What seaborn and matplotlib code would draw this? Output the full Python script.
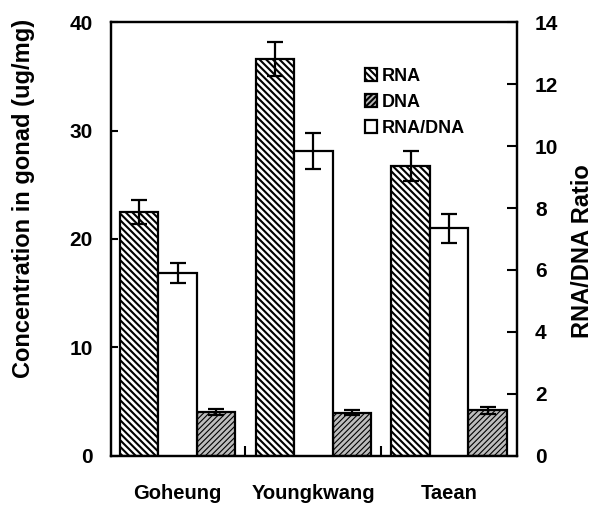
import numpy as np
import pandas as pd
import matplotlib
matplotlib.use("Agg")
import matplotlib.pyplot as plt
from matplotlib.patches import Patch
import seaborn as sns

sites = ["Goheung", "Youngkwang", "Taean"]
rna = [22.5, 36.6, 26.7]
rna_err = [1.1, 1.6, 1.4]
dna = [4.05, 4.0, 4.2]
dna_err = [0.3, 0.25, 0.3]
ratio = [5.9, 9.85, 7.35]
ratio_err = [0.33, 0.58, 0.47]

levels = ["RNA", "RNA/DNA", "DNA"]

sns.set_theme(style="white")
plt.rcParams["font.family"] = ["Liberation Sans", "DejaVu Sans"]
plt.rcParams["font.weight"] = "bold"
plt.rcParams["hatch.linewidth"] = 1.5
for k in ["text.color", "axes.labelcolor", "xtick.color", "ytick.color", "axes.edgecolor"]:
    plt.rcParams[k] = "black"

left_df = pd.DataFrame({
    "site": sites * 2,
    "var": ["RNA"] * 3 + ["DNA"] * 3,
    "value": rna + dna,
})
right_df = pd.DataFrame({
    "site": sites,
    "var": ["RNA/DNA"] * 3,
    "value": ratio,
})

fig = plt.figure(figsize=(6.02, 5.07), dpi=100)
ax = fig.add_axes([0.1844, 0.1006, 0.6744, 0.856])
DNA_GRAY = "#bcbcbc"
RNA_HATCH = "\\\\\\\\\\"
pal = {"RNA": "white", "RNA/DNA": "white", "DNA": DNA_GRAY}

sns.barplot(data=left_df, x="site", y="value", hue="var", hue_order=levels,
            order=sites, palette=pal, width=0.85, gap=0, dodge=True, errorbar=None,
            edgecolor="black", linewidth=1.6, legend=False, ax=ax, saturation=1)
ax2 = ax.twinx()
ax2.patch.set_visible(False)
sns.barplot(data=right_df, x="site", y="value", hue="var", hue_order=levels,
            order=sites, palette=pal, width=0.85, gap=0, dodge=True, errorbar=None,
            edgecolor="black", linewidth=1.6, legend=False, ax=ax2, saturation=1)


def style_dna(p):
    p.set_hatch("//////")
    try:
        p.set_hatchcolor("#6e6e6e")
    except AttributeError:
        pass
    try:
        p.set_hatch_linewidth(0.8)
    except AttributeError:
        pass


def centers(patches):
    ps = sorted(patches, key=lambda p: p.get_x())
    return ([p.get_x() + p.get_width() / 2 for p in ps], [p.get_height() for p in ps])


rna_p, dna_p = [], []
for p in ax.patches:
    h = p.get_height()
    if h is None or np.isnan(h):
        continue
    fc = p.get_facecolor()
    if fc[0] > 0.9:
        p.set_hatch(RNA_HATCH)
        rna_p.append(p)
    else:
        style_dna(p)
        dna_p.append(p)
ratio_p = [p for p in ax2.patches if not np.isnan(p.get_height())]

ekw = dict(fmt="none", ecolor="black", elinewidth=1.6, capsize=5.5, capthick=1.6, zorder=5)
x, y = centers(rna_p)
ax.errorbar(x, y, yerr=rna_err, **ekw)
x, y = centers(dna_p)
ax.errorbar(x, y, yerr=dna_err, **ekw)
x, y = centers(ratio_p)
ax2.errorbar(x, y, yerr=ratio_err, **ekw)

ax.set_xlim(-0.49, 2.5)
ax.set_ylim(0, 40)
ax2.set_ylim(0, 14)
ax.set_yticks([0, 10, 20, 30, 40])
ax2.set_yticks(np.arange(0, 15, 2))
ax.set_xticks([0, 1, 2])
ax.set_xticks([0.5, 1.5], minor=True)

ax.tick_params(axis="x", which="major", length=0, pad=20, labelsize=14.5, colors="black")
ax.tick_params(axis="x", which="minor", direction="in", length=7, width=1.5, bottom=True)
ax.tick_params(axis="y", direction="in", length=5, width=1.5, pad=13, labelsize=15, left=True, colors="black")
ax2.tick_params(axis="y", direction="in", length=7, width=1.5, pad=13, labelsize=15, right=True, colors="black")
for t in ax.get_xticklabels() + ax.get_yticklabels() + ax2.get_yticklabels():
    t.set_fontweight("bold")

ax.set_xlabel("")
ax.set_ylabel("Concentration in gonad (ug/mg)", fontsize=17, fontweight="bold", color="black")
ax2.set_ylabel("RNA/DNA Ratio", fontsize=17, fontweight="bold", color="black")
ax.yaxis.set_label_coords(-0.188, 0.594)
ax2.yaxis.set_label_coords(1.134, 0.472)

for a in (ax, ax2):
    for s in a.spines.values():
        s.set_linewidth(1.6)
        s.set_color("black")

h_rna = Patch(facecolor="white", edgecolor="black", hatch=RNA_HATCH, linewidth=1.6)
h_dna = Patch(facecolor=DNA_GRAY, edgecolor="black", linewidth=1.6)
style_dna(h_dna)
h_ratio = Patch(facecolor="white", edgecolor="black", linewidth=1.6)
leg = ax2.legend([h_rna, h_dna, h_ratio], ["RNA", "DNA", "RNA/DNA"], loc="upper left",
                 bbox_to_anchor=(0.625, 0.895), frameon=False, borderpad=0,
                 borderaxespad=0, handlelength=0.7, handleheight=0.7,
                 handletextpad=0.25, labelspacing=0.5,
                 prop={"weight": "bold", "size": 13})

fig.savefig("out.png", dpi=100)
